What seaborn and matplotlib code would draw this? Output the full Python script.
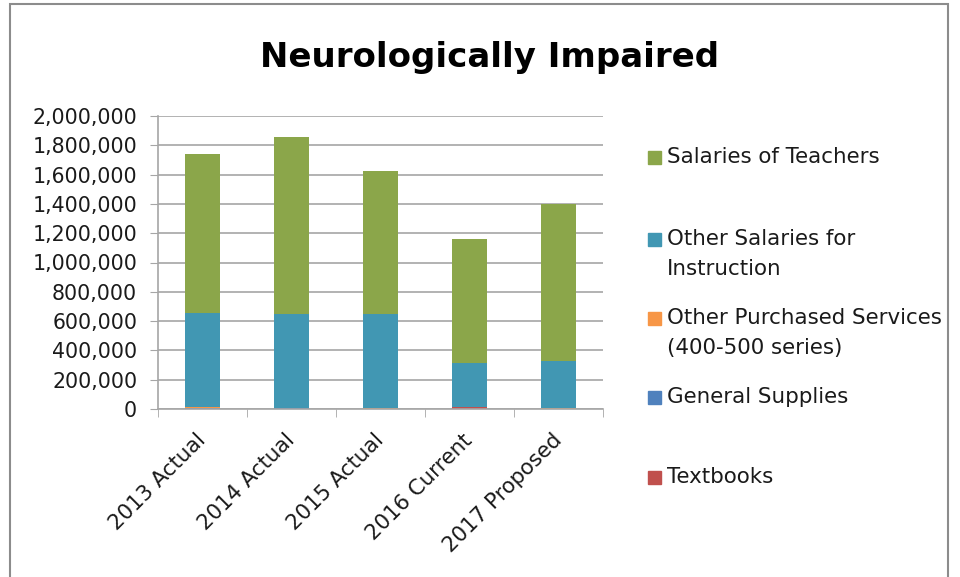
import pandas as pd
import numpy as np
import matplotlib
matplotlib.use("Agg")
import matplotlib.pyplot as plt
import matplotlib.transforms as mtransforms
from matplotlib.patches import Rectangle
from matplotlib.ticker import FuncFormatter, MultipleLocator
import seaborn as sns

# data (dollars)
years = ["2013 Actual", "2014 Actual", "2015 Actual", "2016 Current", "2017 Proposed"]
textbooks = [3000, 2000, 0, 12000, 0]
general_supplies = [2000, 2000, 3000, 3000, 3000]
purchased_services = [8000, 6000, 1000, 2000, 1000]
other_salaries = [644000, 636000, 642000, 295000, 324000]
teacher_salaries = [1083000, 1213000, 981000, 848000, 1072000]

# bottom -> top
series = [
    ("Textbooks", textbooks, "#C0504D"),
    ("General Supplies", general_supplies, "#4F81BD"),
    ("Other Purchased Services\n(400-500 series)", purchased_services, "#F79646"),
    ("Other Salaries for\nInstruction", other_salaries, "#4197B3"),
    ("Salaries of Teachers", teacher_salaries, "#8BA64A"),
]


def main():
    sns.set_style("white")
    plt.rcParams["font.family"] = ["DejaVu Sans"]

    fig = plt.figure(figsize=(9.6, 5.77), dpi=100)
    ax = fig.add_axes([158 / 960, 1 - 409 / 577, 445 / 960, 293 / 577])

    # stacked bars: draw cumulative totals from the top series down
    cum = np.cumsum([s[1] for s in series], axis=0)
    for i in range(len(series) - 1, -1, -1):
        df = pd.DataFrame({"year": years, "value": cum[i]})
        sns.barplot(data=df, x="year", y="value", color=series[i][2],
                    width=0.4, saturation=1, ax=ax, errorbar=None,
                    linewidth=0)

    ax.set_ylim(0, 2000000)
    ax.set_xlim(-0.5, len(years) - 0.5)
    ax.yaxis.set_major_locator(MultipleLocator(200000))
    ax.yaxis.set_major_formatter(FuncFormatter(lambda v, p: f"{int(v):,}"))
    ax.grid(axis="y", color="#A6A6A6", linewidth=1.2)
    ax.set_axisbelow(True)
    for side in ["top", "right"]:
        ax.spines[side].set_visible(False)
    for side in ["left", "bottom"]:
        ax.spines[side].set_color("#A6A6A6")
        ax.spines[side].set_linewidth(1.2)
    ax.set_xlabel("")
    ax.set_ylabel("")

    ax.tick_params(axis="y", which="major", direction="out", length=6,
                   color="#A6A6A6", labelsize=14.8, pad=9, left=True,
                   labelcolor="#1a1a1a")
    # x ticks between categories
    ax.set_xticks(np.arange(len(years)))
    ax.set_xticklabels(years, rotation=45, ha="right", va="top",
                       rotation_mode="anchor", fontsize=15.3, color="#1a1a1a")
    ax.tick_params(axis="x", which="major", length=0, pad=8)
    ax.set_xticks(np.arange(-0.5, len(years)), minor=True)
    ax.tick_params(axis="x", which="minor", direction="out", length=6,
                   color="#A6A6A6", bottom=True)
    shift = mtransforms.ScaledTranslation(-0.07, -0.10, fig.dpi_scale_trans)
    for lab in ax.get_xticklabels():
        lab.set_transform(lab.get_transform() + shift)

    fig.text(490 / 960, 1 - 57 / 577, "Neurologically Impaired",
             ha="center", va="center", fontsize=24.5, fontweight="bold",
             color="black")

    # legend placed like the reference (top series first)
    legend_lines = [[157], [239, 269], [318, 348], [397], [477]]
    for (name, _, color), ys in zip(series[::-1], legend_lines):
        fig.patches.append(Rectangle((648 / 960, 1 - (ys[0] + 7) / 577), 13 / 960, 13 / 577,
                                     transform=fig.transFigure, color=color))
        for line, y in zip(name.split("\n"), ys):
            fig.text(667 / 960, 1 - y / 577, line, ha="left", va="center",
                     fontsize=15.4, color="#1a1a1a")

    # chart frame
    fig.patches.append(Rectangle((10 / 960, -0.05), 938 / 960, 1.05 - 4 / 577,
                                 transform=fig.transFigure, fill=False,
                                 edgecolor="#8C8C8C", linewidth=1.5))

    fig.savefig("out.png", dpi=100)


if __name__ == "__main__":
    main()
